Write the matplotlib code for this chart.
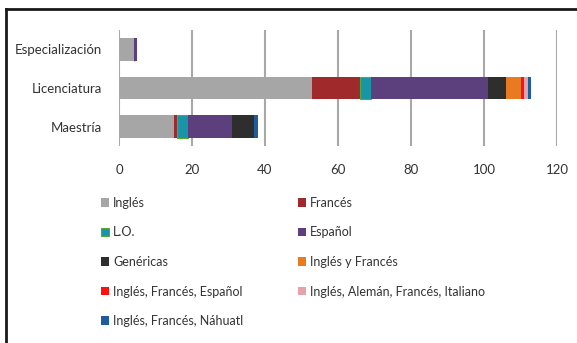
import numpy as np
import matplotlib
matplotlib.use("Agg")
import matplotlib.pyplot as plt
from matplotlib.lines import Line2D

plt.rcParams['font.family'] = ['Lato', 'DejaVu Sans']

# categories, bottom to top
niveles = ['Maestría', 'Licenciatura', 'Especialización']

series = ['Inglés', 'Francés', 'L.O.', 'Español', 'Genéricas', 'Inglés y Francés',
          'Inglés, Francés, Español', 'Inglés, Alemán, Francés, Italiano',
          'Inglés, Francés, Náhuatl']

# values per series for [Maestría, Licenciatura, Especialización]
ingles = [15, 53, 4]
frances = [1, 13, 0]
lo = [3, 3, 0]
espanol = [12, 32, 1]
genericas = [6, 5, 0]
ingles_frances = [0, 4, 0]
ing_fra_esp = [0, 1, 0]
ing_ale_fra_ita = [0, 1, 0]
ing_fra_nah = [1, 1, 0]

valores = [ingles, frances, lo, espanol, genericas, ingles_frances,
           ing_fra_esp, ing_ale_fra_ita, ing_fra_nah]

colores = ['#a6a6a6', '#9e2a2b', '#1896a8', '#5c3f7d', '#2e2e2e', '#e87a22',
           '#ff1010', '#e6a2aa', '#1f5c9e']
bordes = [None, None, '#5aa83c', None, None, None, None, None, None]

ticks_x = [0, 20, 40, 60, 80, 100, 120]

fig = plt.figure(figsize=(5.77, 3.43), dpi=100)
ax = fig.add_axes([119/577, 1-146/343, (557-119)/577, (146-30)/343])

y = np.arange(len(niveles))
izq = np.zeros(len(niveles))
handles = []
for nombre, vals, c, b in zip(series, valores, colores, bordes):
    vals = np.array(vals, dtype=float)
    if b:
        h = ax.barh(y, vals, left=izq, height=0.58, color=c, edgecolor=b, linewidth=0.8, zorder=3)
    else:
        h = ax.barh(y, vals, left=izq, height=0.58, color=c, linewidth=0, zorder=3)
    handles.append(h)
    izq += vals

ax.set_xlim(0, 120)
ax.set_ylim(-0.5, 2.5)
ax.set_xticks(ticks_x)
ax.set_yticks(y)
ax.set_yticklabels(niveles)
ax.xaxis.grid(True, color='#a8a8a8', linewidth=1.5, zorder=0)
for s in ax.spines.values():
    s.set_visible(False)
ax.tick_params(axis='both', length=0, labelsize=9.5, colors='#333333')
ax.tick_params(axis='x', pad=13)
ax.tick_params(axis='y', pad=12)

# row-major order for a 2 column legend
orden = [0, 2, 4, 6, 8, 1, 3, 5, 7]
fig.legend([handles[i] for i in orden], [series[i] for i in orden],
           ncol=2, loc='upper left', bbox_to_anchor=(101/577, 1-197/343),
           frameon=False, fontsize=9, handlelength=0.65, handleheight=0.65,
           handletextpad=0.3, labelspacing=1.4, columnspacing=4.4,
           labelcolor='#333333', borderaxespad=0, borderpad=0)

# frame of the original screenshot (top and left edges)
fig.add_artist(Line2D([6/577, 6/577], [0, 1-9/343], transform=fig.transFigure, color='#1a1a1a', linewidth=2))
fig.add_artist(Line2D([6/577, 1], [1-9/343, 1-9/343], transform=fig.transFigure, color='#1a1a1a', linewidth=2))

fig.savefig('out.png', dpi=100)
